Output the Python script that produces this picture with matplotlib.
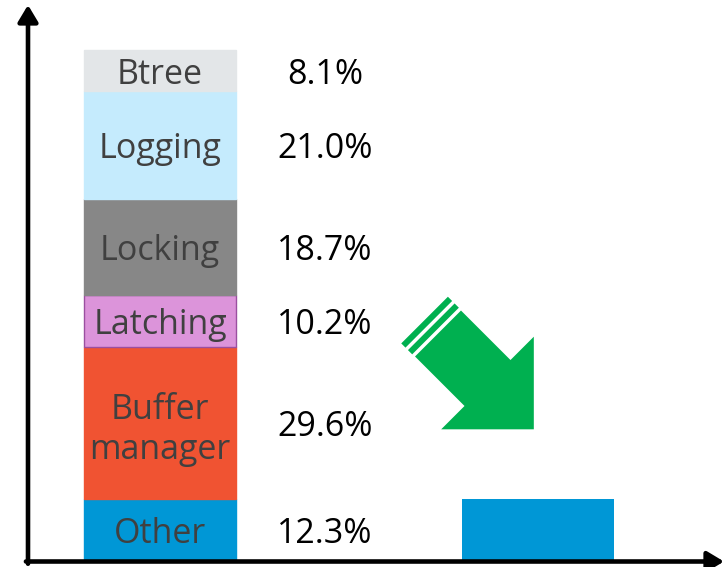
import numpy as np
import matplotlib
matplotlib.use("Agg")
import matplotlib.pyplot as plt
from matplotlib.patches import Polygon

plt.rcParams['font.family'] = ['Open Sans', 'DejaVu Sans']

# stacked breakdown (bottom to top)
segments = ['Other', 'Buffer\nmanager', 'Latching', 'Locking', 'Logging', 'Btree']
shares = [12.3, 29.6, 10.2, 18.7, 21.0, 8.1]
share_labels = ['12.3%', '29.6%', '10.2%', '18.7%', '21.0%', '8.1%']
seg_colors = ['#0097D6', '#F05332', '#DC94DA', '#878787', '#C5EBFD', '#E3E6E8']
seg_edges = ['#0097D6', '#F05332', '#9B4FA0', '#878787', '#C5EBFD', '#E3E6E8']

# second bar (remaining after optimisation)
after_value = 12.3

W, H = 724, 567
fig = plt.figure(figsize=(W / 100, H / 100), dpi=100)

# main axes: x-axis at y~561px, y-axis at x~28px
left, right, top, bottom = 28, 724, 5, 561.5
ax = fig.add_axes([left / W, (H - bottom) / H, (right - left) / W, (bottom - top) / H])
px_per_unit_y = 5.12
ax.set_ylim(0, (bottom - top) / px_per_unit_y)
px_per_unit_x = 377.5
x0 = 160  # pixel center of first bar
ax.set_xlim((left - x0) / px_per_unit_x, (right - x0) / px_per_unit_x)
bar_w = 152 / px_per_unit_x
label_x = (325 - x0) / px_per_unit_x

base = 0
for name, val, lab, col, ec in zip(segments, shares, share_labels, seg_colors, seg_edges):
    ax.bar(0, val, bottom=base, width=bar_w, color=col, edgecolor=ec, linewidth=1)
    mid = base + val / 2
    ax.text(0, mid, name, ha='center', va='center_baseline', fontsize=24.5, color='#404040',
            linespacing=1.25)
    ax.text(label_x, mid, lab, ha='center', va='center_baseline', fontsize=24.5, color='black')
    base += val

ax.bar(1, after_value, width=bar_w, color='#0097D6')

for s in ax.spines.values():
    s.set_visible(False)
ax.set_xticks([])
ax.set_yticks([])

arrow_kw = dict(arrowstyle='-|>,head_length=0.5,head_width=0.3', lw=3.3, color='black',
                shrinkA=0, shrinkB=0, mutation_scale=20)
ax.annotate('', xy=(0, 1), xytext=(0, -0.004), xycoords='axes fraction', arrowprops=arrow_kw,
            annotation_clip=False)
ax.annotate('', xy=(1, 0), xytext=(-0.003, 0), xycoords='axes fraction', arrowprops=arrow_kw,
            annotation_clip=False)

# overlay in pixel coords for the green arrow
ov = fig.add_axes([0, 0, 1, 1], facecolor='none')
ov.set_xlim(0, W)
ov.set_ylim(H, 0)
ov.axis('off')

green = '#00B050'
mid = np.array([487.5, 383.0])
d = np.array([1, 1]) / np.sqrt(2)
p = np.array([1, -1]) / np.sqrt(2)


def pt(s, q):
    return mid + s * d + q * p


body = [pt(-70, -32.5), pt(0, -32.5), pt(0, -65.5), pt(65.5, 0), pt(0, 65.5), pt(0, 32.5), pt(-70, 32.5)]
ov.add_patch(Polygon(body, closed=True, color=green, lw=0))
for s0, s1 in [(-79.5, -73.5), (-89, -83)]:
    ov.add_patch(Polygon([pt(s0, -33), pt(s1, -33), pt(s1, 33), pt(s0, 33)], closed=True,
                         color=green, lw=0))

fig.savefig('out.png', dpi=100)
